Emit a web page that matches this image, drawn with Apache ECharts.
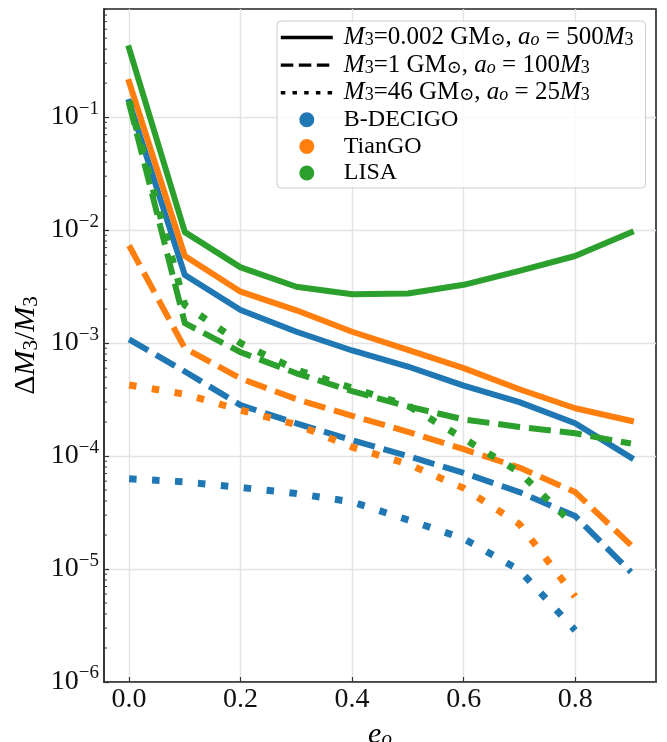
<!DOCTYPE html>
<html>
<head>
<meta charset="utf-8">
<script src="https://cdn.jsdelivr.net/npm/echarts@6/dist/echarts.min.js"></script>
<style>
  html, body { margin: 0; padding: 0; background: #ffffff; }
  #chart { width: 667px; height: 742px; }
</style>
</head>
<body>
<div id="chart"></div>
<script>
// Orbital eccentricity of the outer orbit
const eccentricity = [0.0, 0.1, 0.2, 0.3, 0.4, 0.5, 0.6, 0.7, 0.8, 0.9];

// Axis ticks
const xTickValues = [0.0, 0.2, 0.4, 0.6, 0.8];
const yTickValues = [1e-6, 1e-5, 1e-4, 1e-3, 1e-2, 1e-1];
const yMinorTickValues = [
  2e-6, 3e-6, 4e-6, 5e-6, 6e-6, 7e-6, 8e-6, 9e-6,
  2e-5, 3e-5, 4e-5, 5e-5, 6e-5, 7e-5, 8e-5, 9e-5,
  2e-4, 3e-4, 4e-4, 5e-4, 6e-4, 7e-4, 8e-4, 9e-4,
  2e-3, 3e-3, 4e-3, 5e-3, 6e-3, 7e-3, 8e-3, 9e-3,
  2e-2, 3e-2, 4e-2, 5e-2, 6e-2, 7e-2, 8e-2, 9e-2,
  2e-1, 3e-1, 4e-1, 5e-1, 6e-1, 7e-1, 8e-1, 9e-1
];
const X_MIN = -0.045, X_MAX = 0.945;
const Y_MIN = 1e-6, Y_MAX = 0.906;

// Relative error on M3 — M3 = 0.002 GM_sun, a_o = 500 M3
const bdecigoLight = [0.136, 4.0e-3, 1.96e-3, 1.26e-3, 8.6e-4, 6.2e-4, 4.2e-4, 3.0e-4, 1.95e-4, 9.7e-5];
const tiangoLight  = [0.205, 5.9e-3, 2.85e-3, 1.95e-3, 1.26e-3, 8.7e-4, 6.0e-4, 3.9e-4, 2.65e-4, 2.05e-4];
const lisaLight    = [0.407, 9.6e-3, 4.68e-3, 3.15e-3, 2.70e-3, 2.75e-3, 3.28e-3, 4.36e-3, 5.9e-3, 9.55e-3];

// M3 = 1 GM_sun, a_o = 100 M3
const bdecigoMid = [1.08e-3, 5.6e-4, 2.82e-4, 1.95e-4, 1.38e-4, 1.0e-4, 7.1e-5, 4.8e-5, 2.94e-5, 9.4e-6];
const tiangoMid  = [7.3e-3, 9.0e-4, 4.86e-4, 3.19e-4, 2.27e-4, 1.64e-4, 1.15e-4, 7.9e-5, 4.8e-5, 1.63e-5];
const lisaMid    = [0.133, 1.5e-3, 8.3e-4, 5.4e-4, 3.75e-4, 2.75e-4, 2.11e-4, 1.81e-4, 1.59e-4, 1.29e-4];

// M3 = 46 GM_sun, a_o = 25 M3
const bdecigoHeavy = [6.3e-5, 5.9e-5, 5.27e-5, 4.66e-5, 3.93e-5, 2.72e-5, 1.86e-5, 9.8e-6, 2.87e-6];
const tiangoHeavy  = [4.25e-4, 3.53e-4, 2.55e-4, 1.9e-4, 1.2e-4, 8.5e-5, 5.2e-5, 2.5e-5, 5.7e-6];
const lisaHeavy    = [0.14, 2.17e-3, 1.0e-3, 5.8e-4, 4.0e-4, 2.8e-4, 1.43e-4, 7.2e-5, 2.4e-5];

const detectorNames = ['B-DECIGO', 'TianGO', 'LISA'];
const detectorColors = ['#1f77b4', '#ff7f0e', '#2ca02c'];
const configNames = ['M3=0.002, ao=500', 'M3=1, ao=100', 'M3=46, ao=25'];

const SERIF = "'Liberation Serif', 'DejaVu Serif', serif";
const lineKinds = [
  { type: 'solid', cap: 'square', width: 6 },
  { type: [22, 9], cap: 'butt', width: 6 },
  { type: [7.5, 15.5], cap: 'butt', width: 7 }
];
const legendKinds = [
  { type: 'solid', width: 3.3 },
  { type: [12.5, 5.5], width: 3.3 },
  { type: [4.5, 7.2], width: 3.6 }
];

const curves = [
  [bdecigoLight, tiangoLight, lisaLight],
  [bdecigoMid, tiangoMid, lisaMid],
  [bdecigoHeavy, tiangoHeavy, lisaHeavy]
];

const series = [];
curves.forEach((group, k) => {
  group.forEach((values, d) => {
    series.push({
      type: 'line',
      name: detectorNames[d] + ' / ' + configNames[k],
      data: values.map((v, i) => [eccentricity[i], v]),
      symbol: 'none',
      showSymbol: false,
      silent: true,
      clip: true,
      color: detectorColors[d],
      lineStyle: {
        color: detectorColors[d],
        width: lineKinds[k].width,
        type: lineKinds[k].type,
        cap: lineKinds[k].cap,
        join: 'round'
      },
      z: 3
    });
  });
});

// Minor ticks along the left spine of the log axis
series.push({
  type: 'custom',
  name: 'minor-ticks',
  silent: true,
  clip: false,
  z: 5,
  data: yMinorTickValues.map(v => [X_MIN, v]),
  renderItem: (params, api) => {
    const p = api.coord([api.value(0), api.value(1)]);
    return {
      type: 'line',
      shape: { x1: p[0], y1: p[1], x2: p[0] + 3, y2: p[1] },
      style: { stroke: '#333', lineWidth: 1 }
    };
  }
});

// Legend-only entries
configNames.forEach((n, k) => {
  series.push({
    type: 'line', name: n, data: [], symbol: 'none', color: '#000',
    lineStyle: { color: '#000', width: legendKinds[k].width, type: legendKinds[k].type, cap: 'butt' }
  });
});
detectorNames.forEach((n, d) => {
  series.push({ type: 'scatter', name: n, data: [], symbol: 'circle', itemStyle: { color: detectorColors[d], opacity: 1 } });
});

const legendText = {
  'M3=0.002, ao=500': '{i|M}{sb|3}{r|=0.002 GM}{sb|\u2299}{r|, }{i|a}{sbi|o}{r| = 500}{i|M}{sb|3}',
  'M3=1, ao=100': '{i|M}{sb|3}{r|=1 GM}{sb|\u2299}{r|, }{i|a}{sbi|o}{r| = 100}{i|M}{sb|3}',
  'M3=46, ao=25': '{i|M}{sb|3}{r|=46 GM}{sb|\u2299}{r|, }{i|a}{sbi|o}{r| = 25}{i|M}{sb|3}'
};

const hiddenMarker = { opacity: 0, color: 'rgba(0,0,0,0)', borderWidth: 0 };

const option = {
  animation: false,
  backgroundColor: '#ffffff',
  grid: {
    left: 104, right: 11, top: 9, bottom: 60,
    containLabel: false,
    outerBoundsMode: 'none',
    show: true,
    borderColor: '#222',
    borderWidth: 1.6,
    backgroundColor: 'transparent'
  },
  xAxis: {
    type: 'value',
    min: X_MIN, max: X_MAX,
    name: '{i|e}{sbi|o}',
    nameLocation: 'middle',
    nameGap: 38,
    nameMoveOverlap: false,
    nameTextStyle: {
      fontFamily: SERIF, color: '#000',
      rich: {
        i: { fontFamily: SERIF, fontStyle: 'italic', fontSize: 30, lineHeight: 30 },
        sbi: { fontFamily: SERIF, fontStyle: 'italic', fontSize: 21, lineHeight: 12, verticalAlign: 'bottom' }
      }
    },
    axisLine: { show: true, onZero: false, lineStyle: { color: '#333', width: 1.6 } },
    axisTick: { show: true, inside: true, length: 5, customValues: xTickValues, lineStyle: { color: '#333', width: 1.2 } },
    axisLabel: {
      customValues: xTickValues,
      margin: 4,
      fontFamily: SERIF, fontSize: 28, color: '#111',
      formatter: v => Number(v).toFixed(1)
    },
    splitLine: { show: true, lineStyle: { color: '#e3e3e3', width: 1.4 } }
  },
  yAxis: {
    type: 'log', logBase: 10,
    min: Y_MIN, max: Y_MAX,
    position: 'left',
    name: '{d|\u0394}{i|M}{sb|3}{r|/}{i|M}{sb|3}',
    nameLocation: 'middle',
    nameRotate: 90,
    nameGap: 62,
    nameMoveOverlap: false,
    nameTextStyle: {
      fontFamily: SERIF, color: '#000',
      rich: {
        d: { fontFamily: SERIF, fontSize: 30, lineHeight: 32 },
        i: { fontFamily: SERIF, fontStyle: 'italic', fontSize: 30, lineHeight: 32 },
        r: { fontFamily: SERIF, fontSize: 30, lineHeight: 32 },
        sb: { fontFamily: SERIF, fontSize: 21, lineHeight: 12, verticalAlign: 'bottom' }
      }
    },
    axisLine: { show: true, onZero: false, lineStyle: { color: '#333', width: 1.6 } },
    axisTick: { show: true, inside: true, length: 5, customValues: yTickValues, lineStyle: { color: '#333', width: 1.2 } },
    axisLabel: {
      customValues: yTickValues,
      margin: 5,
      color: '#111',
      formatter: v => {
        const n = v > 0 ? Math.round(Math.log10(v)) : Math.round(v);
        return '{b|10}{s|\u2212' + Math.abs(n) + '}';
      },
      rich: {
        b: { fontFamily: SERIF, fontSize: 28, lineHeight: 36, color: '#111' },
        s: { fontFamily: SERIF, fontSize: 19, lineHeight: 22, verticalAlign: 'top', color: '#111' }
      }
    },
    splitLine: { show: true, lineStyle: { color: '#e3e3e3', width: 1.4 } }
  },
  legend: {
    orient: 'vertical',
    left: 277, top: 21,
    padding: [4, 12, 3, 2],
    itemWidth: 52,
    itemHeight: 15,
    itemGap: 2.6,
    selectedMode: false,
    backgroundColor: 'rgba(255,255,255,0.8)',
    borderColor: '#cccccc',
    borderWidth: 1,
    borderRadius: 4,
    data: [
      { name: configNames[0], itemStyle: hiddenMarker, lineStyle: { color: '#000', width: legendKinds[0].width, type: legendKinds[0].type } },
      { name: configNames[1], itemStyle: hiddenMarker, lineStyle: { color: '#000', width: legendKinds[1].width, type: legendKinds[1].type } },
      { name: configNames[2], itemStyle: hiddenMarker, lineStyle: { color: '#000', width: legendKinds[2].width, type: legendKinds[2].type } },
      { name: detectorNames[0], icon: 'circle', itemStyle: { color: detectorColors[0], opacity: 1 } },
      { name: detectorNames[1], icon: 'circle', itemStyle: { color: detectorColors[1], opacity: 1 } },
      { name: detectorNames[2], icon: 'circle', itemStyle: { color: detectorColors[2], opacity: 1 } }
    ],
    formatter: name => legendText[name] || ('{n|' + name + '}'),
    textStyle: {
      fontFamily: SERIF, fontSize: 24, color: '#000', lineHeight: 24,
      padding: [0, 0, 0, 6],
      rich: {
        n: { fontFamily: SERIF, fontSize: 24, lineHeight: 24 },
        i: { fontFamily: SERIF, fontStyle: 'italic', fontSize: 25, lineHeight: 24 },
        r: { fontFamily: SERIF, fontSize: 25, lineHeight: 24 },
        sb: { fontFamily: SERIF, fontSize: 18, lineHeight: 11, verticalAlign: 'bottom' },
        sbi: { fontFamily: SERIF, fontStyle: 'italic', fontSize: 18, lineHeight: 11, verticalAlign: 'bottom' }
      }
    }
  },
  series: series
};

const chart = echarts.init(document.getElementById('chart'), null, { renderer: 'canvas' });
chart.setOption(option);
</script>
</body>
</html>
